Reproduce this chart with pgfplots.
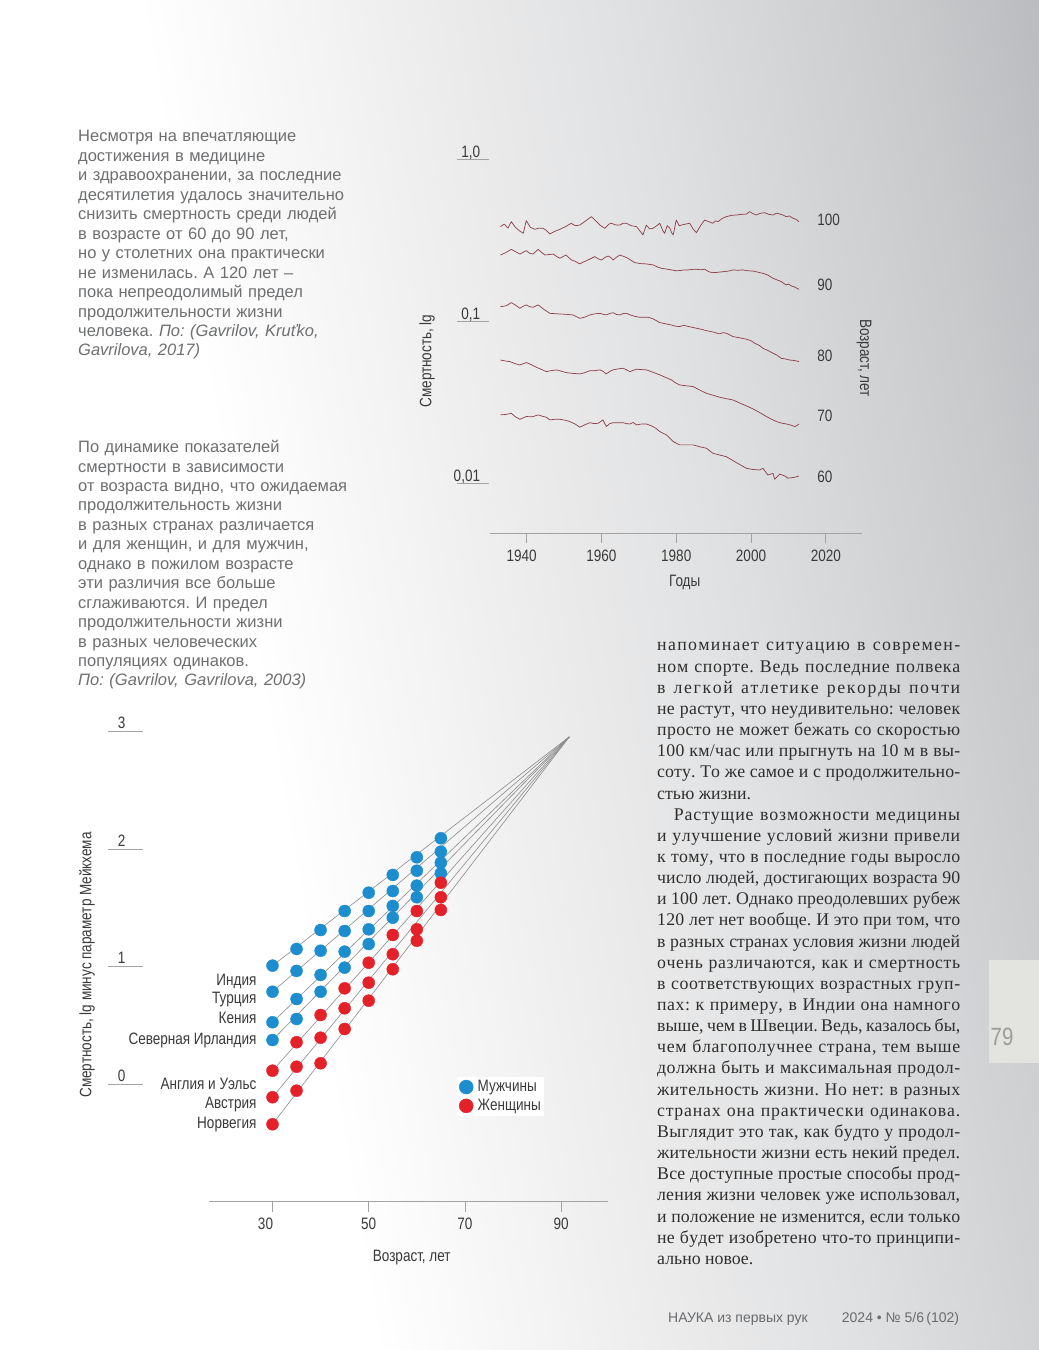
\documentclass[border=0pt]{standalone}
\usepackage{pgfplots}
\pgfplotsset{compat=1.18}
\usepackage{fontspec}
\setmainfont{Liberation Serif}
\newfontfamily\sansf{Liberation Sans}
\newfontfamily\condf[FakeStretch=0.82]{Liberation Sans}

\definecolor{bg0}{HTML}{F5F5F5}
\definecolor{bg1}{HTML}{EBEBEC}
\definecolor{bg2}{HTML}{E0E1E2}
\definecolor{bg3}{HTML}{C8CACC}
\definecolor{bg4}{HTML}{BABCBF}
\definecolor{bg5}{HTML}{9EA1A4}
\definecolor{bg6}{HTML}{94979A}
\definecolor{sidegray}{HTML}{6E6F71}
\definecolor{dark}{HTML}{3A3A3A}
\definecolor{bodytxt}{HTML}{2E2E2E}
\definecolor{axgray}{HTML}{A3A3A3}
\definecolor{lred}{RGB}{138,62,70}
\definecolor{dblue}{RGB}{28,141,207}
\definecolor{dred}{RGB}{228,32,40}
\definecolor{lgray}{HTML}{8C8C8C}
\definecolor{boxcol}{HTML}{E3E4E0}
\definecolor{numgray}{HTML}{9C9C9C}
\definecolor{footgray}{HTML}{6A6B6D}

\pgfdeclarehorizontalshading{pagebg}{100bp}{color(0bp)=(white); color(38bp)=(white); color(45bp)=(bg0); color(52bp)=(bg1); color(60bp)=(bg2); color(73bp)=(bg3); color(79bp)=(bg4); color(87bp)=(bg5); color(100bp)=(bg6)}

% justified line with stretchable letter spacing
\ExplSyntaxOn
\seq_new:N \l__ls_words_seq
\seq_new:N \l__ls_out_seq
\bool_new:N \l__ls_first_bool
\cs_new_protected:Npn \__ls_word:n #1
  {
    \bool_set_true:N \l__ls_first_bool
    \tl_map_inline:nn {#1}
      {
        \bool_if:NF \l__ls_first_bool { \hskip 0pt plus 1pt \relax }
        \bool_set_false:N \l__ls_first_bool
        ##1
      }
  }
\cs_new_protected:Npn \lsline #1
  {
    \seq_set_split:Nnn \l__ls_words_seq { ~ } { #1 }
    \seq_clear:N \l__ls_out_seq
    \seq_map_inline:Nn \l__ls_words_seq
      { \seq_put_right:Nn \l__ls_out_seq { \__ls_word:n {##1} } }
    \seq_use:Nn \l__ls_out_seq { ~ }
  }
\ExplSyntaxOff
\newcommand\jl[1]{\makebox[303pt][s]{\lsline{#1}}}
\newcommand\jli[1]{\makebox[303pt][s]{\hspace*{16.7pt}\lsline{#1}}}
\newcommand\cf{\condf\fontsize{16.5}{19}\selectfont}

\begin{document}
\begin{tikzpicture}
\begin{scope}[x=1pt,y=1pt]
\path[use as bounding box] (0,0) rectangle (1039,1350);
\shade[shading=pagebg, shading angle=10] (0,0) rectangle (1039,1350);
\fill[boxcol] (989,287) rectangle (1039,390);
\node[anchor=center, inner sep=0, text=numgray, font=\condf\fontsize{25}{25}\selectfont] at (1002,313) {79};
\end{scope}

% ---------------- top chart ----------------
\begin{axis}[
  at={(490pt,816.7pt)}, anchor=south west,
  scale only axis, width=371.7pt, height=382.1pt,
  xmin=1930.2, xmax=2029.6, ymin=-2.309, ymax=0.05,
  axis x line*=bottom, axis y line=none, ytick=\empty,
  x axis line style={draw=axgray, line width=0.8pt, -},
  xtick={1940,1960,1980,2000,2020},
  xticklabels={\makebox[0pt]{\kern-10pt 1940},1960,1980,2000,2020},
  tick align=outside, major tick length=10pt,
  xtick style={draw=axgray, line width=0.8pt},
  xticklabel style={font=\cf, text=dark, anchor=base, yshift=-18pt},
  clip=false,
]
% age 100
\addplot[lred, line width=0.7pt, line join=round, no marks] coordinates {(1933.0,-0.416)(1934.0,-0.400)(1935.0,-0.425)(1935.9,-0.385)(1937.0,-0.420)(1938.0,-0.440)(1939.1,-0.457)(1939.9,-0.379)(1941.0,-0.420)(1942.2,-0.432)(1943.3,-0.425)(1944.4,-0.426)(1945.3,-0.440)(1946.2,-0.461)(1947.5,-0.445)(1948.9,-0.432)(1950.5,-0.415)(1951.9,-0.395)(1953.0,-0.410)(1954.2,-0.406)(1955.5,-0.385)(1957.3,-0.354)(1958.7,-0.385)(1959.8,-0.410)(1960.9,-0.426)(1962.0,-0.400)(1962.7,-0.395)(1963.8,-0.405)(1964.9,-0.406)(1965.8,-0.395)(1966.7,-0.395)(1968.0,-0.410)(1969.4,-0.416)(1970.2,-0.440)(1971.1,-0.467)(1972.0,-0.406)(1972.9,-0.430)(1973.8,-0.426)(1974.8,-0.410)(1975.6,-0.395)(1976.4,-0.440)(1976.9,-0.457)(1977.6,-0.410)(1978.3,-0.426)(1978.8,-0.455)(1979.2,-0.467)(1980.0,-0.375)(1980.8,-0.410)(1981.4,-0.406)(1982.5,-0.400)(1983.6,-0.395)(1984.5,-0.430)(1985.4,-0.453)(1986.5,-0.410)(1987.6,-0.375)(1988.7,-0.385)(1989.8,-0.395)(1990.5,-0.380)(1991.2,-0.385)(1992.3,-0.365)(1993.4,-0.354)(1994.8,-0.346)(1996.1,-0.344)(1997.5,-0.340)(1998.8,-0.338)(1999.6,-0.323)(2000.5,-0.335)(2001.4,-0.344)(2002.5,-0.333)(2003.7,-0.330)(2004.8,-0.340)(2005.9,-0.344)(2006.8,-0.333)(2007.7,-0.338)(2008.6,-0.345)(2009.4,-0.354)(2010.3,-0.350)(2011.2,-0.364)(2012.0,-0.370)(2012.8,-0.385)};
% age 90
\addplot[lred, line width=0.7pt, line join=round, no marks] coordinates {(1933.0,-0.591)(1934.5,-0.575)(1935.9,-0.556)(1937.0,-0.570)(1938.2,-0.585)(1939.0,-0.575)(1939.9,-0.564)(1940.8,-0.580)(1941.7,-0.585)(1943.1,-0.556)(1944.0,-0.575)(1944.9,-0.591)(1946.0,-0.588)(1947.1,-0.585)(1948.0,-0.600)(1948.9,-0.611)(1950.5,-0.591)(1952.0,-0.622)(1953.0,-0.630)(1954.2,-0.646)(1955.0,-0.636)(1956.0,-0.626)(1957.0,-0.615)(1958.2,-0.601)(1959.2,-0.615)(1960.0,-0.622)(1961.0,-0.605)(1961.8,-0.597)(1962.7,-0.610)(1963.1,-0.622)(1964.0,-0.605)(1964.9,-0.591)(1966.0,-0.600)(1967.1,-0.611)(1968.0,-0.625)(1968.9,-0.638)(1970.5,-0.644)(1972.0,-0.646)(1973.8,-0.652)(1975.0,-0.665)(1976.0,-0.673)(1977.5,-0.678)(1978.7,-0.683)(1980.0,-0.688)(1980.9,-0.687)(1982.0,-0.683)(1983.2,-0.683)(1984.3,-0.680)(1985.4,-0.679)(1986.5,-0.682)(1987.6,-0.679)(1988.8,-0.695)(1989.8,-0.700)(1991.0,-0.698)(1992.5,-0.694)(1994.0,-0.690)(1995.2,-0.683)(1996.5,-0.685)(1997.9,-0.683)(1999.0,-0.688)(2000.5,-0.690)(2001.5,-0.695)(2003.2,-0.704)(2004.5,-0.715)(2005.9,-0.735)(2007.0,-0.745)(2008.1,-0.755)(2009.0,-0.770)(2009.4,-0.776)(2010.0,-0.770)(2010.8,-0.782)(2011.8,-0.790)(2012.8,-0.803)};
% age 80
\addplot[lred, line width=0.7pt, line join=round, no marks] coordinates {(1933.0,-0.910)(1934.5,-0.905)(1935.9,-0.885)(1937.0,-0.900)(1938.2,-0.920)(1939.0,-0.908)(1939.9,-0.899)(1940.8,-0.910)(1941.7,-0.914)(1942.5,-0.905)(1943.1,-0.899)(1944.5,-0.925)(1946.2,-0.951)(1947.5,-0.953)(1948.9,-0.955)(1950.5,-0.957)(1952.4,-0.961)(1953.2,-0.970)(1954.2,-0.982)(1955.5,-0.975)(1956.9,-0.961)(1958.0,-0.955)(1959.6,-0.951)(1960.6,-0.958)(1961.3,-0.961)(1962.2,-0.952)(1963.1,-0.947)(1964.0,-0.958)(1964.9,-0.961)(1965.8,-0.952)(1966.7,-0.951)(1967.6,-0.960)(1968.5,-0.967)(1969.4,-0.972)(1970.2,-0.975)(1971.5,-0.975)(1972.5,-0.975)(1973.8,-0.985)(1975.6,-1.008)(1977.0,-1.015)(1978.7,-1.023)(1979.8,-1.030)(1980.9,-1.033)(1982.0,-1.025)(1982.7,-1.029)(1984.0,-1.036)(1985.4,-1.043)(1986.8,-1.050)(1988.1,-1.058)(1989.8,-1.066)(1991.6,-1.078)(1992.5,-1.070)(1993.4,-1.074)(1995.2,-1.095)(1996.5,-1.100)(1998.8,-1.111)(2000.0,-1.120)(2001.0,-1.136)(2002.3,-1.150)(2003.2,-1.167)(2004.5,-1.180)(2005.9,-1.198)(2007.0,-1.210)(2008.1,-1.229)(2009.0,-1.232)(2010.3,-1.239)(2011.5,-1.242)(2012.8,-1.249)};
% age 70
\addplot[lred, line width=0.7pt, line join=round, no marks] coordinates {(1933.0,-1.239)(1934.0,-1.244)(1935.5,-1.249)(1937.0,-1.262)(1938.2,-1.270)(1939.9,-1.255)(1941.0,-1.265)(1942.6,-1.284)(1944.0,-1.298)(1945.3,-1.311)(1946.5,-1.305)(1948.0,-1.300)(1949.5,-1.310)(1950.6,-1.317)(1952.4,-1.322)(1954.2,-1.325)(1955.5,-1.318)(1956.9,-1.305)(1958.2,-1.305)(1959.6,-1.300)(1960.5,-1.310)(1961.3,-1.325)(1962.2,-1.310)(1963.1,-1.300)(1964.2,-1.295)(1965.8,-1.290)(1966.7,-1.300)(1967.6,-1.311)(1968.5,-1.303)(1969.4,-1.296)(1970.5,-1.298)(1972.0,-1.300)(1973.8,-1.315)(1975.6,-1.331)(1977.0,-1.345)(1978.7,-1.362)(1979.8,-1.380)(1980.9,-1.393)(1982.5,-1.398)(1984.5,-1.403)(1986.3,-1.425)(1988.1,-1.445)(1990.0,-1.458)(1991.6,-1.469)(1993.4,-1.478)(1995.2,-1.486)(1997.0,-1.505)(1998.8,-1.523)(2000.0,-1.535)(2001.4,-1.552)(2002.8,-1.570)(2004.1,-1.588)(2005.5,-1.605)(2006.8,-1.619)(2008.0,-1.628)(2009.4,-1.634)(2010.5,-1.640)(2011.7,-1.650)(2012.2,-1.645)(2012.8,-1.634)};
% age 60
\addplot[lred, line width=0.7pt, line join=round, no marks] coordinates {(1933.0,-1.578)(1934.5,-1.575)(1935.9,-1.568)(1937.0,-1.590)(1938.2,-1.605)(1939.9,-1.588)(1941.5,-1.590)(1943.1,-1.578)(1944.0,-1.585)(1945.3,-1.593)(1946.2,-1.609)(1947.5,-1.605)(1948.9,-1.605)(1950.5,-1.612)(1951.5,-1.619)(1953.0,-1.635)(1954.2,-1.654)(1955.5,-1.640)(1956.9,-1.626)(1958.0,-1.632)(1959.1,-1.630)(1960.4,-1.609)(1961.3,-1.650)(1962.2,-1.632)(1963.1,-1.626)(1964.5,-1.626)(1965.8,-1.626)(1966.7,-1.632)(1967.6,-1.634)(1968.5,-1.625)(1969.4,-1.640)(1970.5,-1.635)(1972.0,-1.634)(1973.4,-1.646)(1974.5,-1.660)(1975.6,-1.681)(1977.4,-1.702)(1979.2,-1.743)(1980.9,-1.763)(1982.5,-1.763)(1984.5,-1.763)(1986.3,-1.775)(1988.1,-1.784)(1989.8,-1.815)(1991.5,-1.825)(1993.4,-1.836)(1996.1,-1.873)(1998.8,-1.908)(2000.5,-1.915)(2002.3,-1.918)(2003.2,-1.908)(2004.5,-1.949)(2005.9,-1.939)(2006.3,-1.975)(2007.7,-1.943)(2009.0,-1.955)(2009.9,-1.969)(2011.7,-1.963)(2012.8,-1.955)};
% y tick marks (log scale: 1.0, 0.1, 0.01)
\draw[axgray, line width=0.8pt] (axis cs:1921.4,0) -- (axis cs:1930.0,0);
\draw[axgray, line width=0.8pt] (axis cs:1921.4,-1) -- (axis cs:1930.0,-1);
\draw[axgray, line width=0.8pt] (axis cs:1921.4,-2) -- (axis cs:1930.0,-2);
\node[anchor=base east, inner sep=0, font=\cf, text=dark, yshift=2.2pt] at (axis cs:1927.6,0) {1,0};
\node[anchor=base east, inner sep=0, font=\cf, text=dark, yshift=2.2pt] at (axis cs:1927.6,-1) {0,1};
\node[anchor=base east, inner sep=0, font=\cf, text=dark, yshift=2.2pt] at (axis cs:1927.6,-2) {0,01};
\node[anchor=west, inner sep=0, font=\cf, text=dark] at (axis cs:2017.7,-0.375) {100};
\node[anchor=west, inner sep=0, font=\cf, text=dark] at (axis cs:2017.7,-0.772) {90};
\node[anchor=west, inner sep=0, font=\cf, text=dark] at (axis cs:2017.7,-1.216) {80};
\node[anchor=west, inner sep=0, font=\cf, text=dark] at (axis cs:2017.7,-1.585) {70};
\node[anchor=west, inner sep=0, font=\cf, text=dark] at (axis cs:2017.7,-1.961) {60};
\node[anchor=base, inner sep=0, font=\cf, text=dark, yshift=-53.4pt] at (axis description cs:0.5238,0) {Годы};
\node[anchor=center, inner sep=0, font=\cf, text=dark, rotate=90] at (axis description cs:-0.1695,0.4509) {Смертность, lg};
\node[anchor=center, inner sep=0, font=\cf, text=dark, rotate=-90] at (axis description cs:1.0062,0.4588) {Возраст, лет};
\end{axis}

% ---------------- bottom chart ----------------
\begin{axis}[
  at={(209.3pt,148.4pt)}, anchor=south west,
  scale only axis, width=398.9pt, height=475.9pt,
  xmin=16.86, xmax=99.79, ymin=-1.0, ymax=3.05,
  axis x line*=bottom, axis y line=none, ytick=\empty,
  x axis line style={draw=axgray, line width=0.8pt, -},
  xtick={30,50,70,90}, xticklabels={\makebox[0pt]{\kern-14pt 30},50,70,90},
  tick align=outside, major tick length=10pt,
  xtick style={draw=axgray, line width=0.8pt},
  xticklabel style={font=\cf, text=dark, anchor=base, yshift=-18pt},
  clip=false,
  legend style={draw=none, fill=white, at={(0.621,0.262)}, anchor=north west,
    font=\cf, text=dark, inner sep=2pt, row sep=3pt, column sep=3pt, nodes={inner sep=1.5pt}},
  legend cell align=left,
  legend image code/.code={\draw[#1, mark size=7pt] plot coordinates {(7pt,0pt)};},
]
\addplot[forget plot, lgray, line width=0.6pt] coordinates {(30,1.008)(91.7,2.955)};
\addplot[forget plot, lgray, line width=0.6pt] coordinates {(30,0.786)(91.7,2.955)};
\addplot[forget plot, lgray, line width=0.6pt] coordinates {(30,0.526)(91.7,2.955)};
\addplot[forget plot, lgray, line width=0.6pt] coordinates {(30,0.375)(91.7,2.955)};
\addplot[forget plot, lgray, line width=0.6pt] coordinates {(30,0.114)(91.7,2.955)};
\addplot[forget plot, lgray, line width=0.6pt] coordinates {(30,-0.112)(91.7,2.955)};
\addplot[forget plot, lgray, line width=0.6pt] coordinates {(30,-0.342)(91.7,2.955)};
% men
\addplot[only marks, mark=*, mark size=6pt, draw=dblue, fill=dblue] coordinates {
(30,1.008)(35,1.150)(40,1.311)(45,1.473)(50,1.629)(55,1.780)(60,1.930)(65,2.092)
(30,0.786)(35,0.963)(40,1.135)(45,1.303)(50,1.473)(55,1.643)(60,1.816)(65,1.978)
(30,0.526)(35,0.724)(40,0.929)(45,1.127)(50,1.317)(55,1.516)(60,1.689)(65,1.884)
(30,0.375)(35,0.554)(40,0.786)(45,0.991)(50,1.192)(55,1.416)(60,1.590)(65,1.794)};
\addlegendentry{Мужчины}
% women
\addplot[only marks, mark=*, mark size=6pt, draw=dred, fill=dred] coordinates {
(30,0.114)(35,0.356)(40,0.588)(45,0.815)(50,1.033)(55,1.269)(60,1.473)(65,1.714)
(30,-0.112)(35,0.148)(40,0.395)(45,0.645)(50,0.863)(55,1.105)(60,1.317)(65,1.590)
(30,-0.342)(35,-0.056)(40,0.177)(45,0.469)(50,0.710)(55,0.977)(60,1.220)(65,1.482)};
\addlegendentry{Женщины}
% y tick marks
\draw[axgray, line width=0.8pt] (axis cs:-4.14,0) -- (axis cs:3.14,0);
\draw[axgray, line width=0.8pt] (axis cs:-4.14,1) -- (axis cs:3.14,1);
\draw[axgray, line width=0.8pt] (axis cs:-4.14,2) -- (axis cs:3.14,2);
\draw[axgray, line width=0.8pt] (axis cs:-4.14,3) -- (axis cs:3.14,3);
\node[anchor=base, inner sep=0, font=\cf, text=dark, yshift=2.8pt] at (axis cs:-1.35,0) {0};
\node[anchor=base, inner sep=0, font=\cf, text=dark, yshift=2.8pt] at (axis cs:-1.35,1) {1};
\node[anchor=base, inner sep=0, font=\cf, text=dark, yshift=2.8pt] at (axis cs:-1.35,2) {2};
\node[anchor=base, inner sep=0, font=\cf, text=dark, yshift=2.8pt] at (axis cs:-1.35,3) {3};
% country labels
\node[anchor=base east, inner sep=0, font=\cf, text=dark] at (axis cs:26.7,0.843) {Индия};
\node[anchor=base east, inner sep=0, font=\cf, text=dark] at (axis cs:26.7,0.682) {Турция};
\node[anchor=base east, inner sep=0, font=\cf, text=dark] at (axis cs:26.7,0.512) {Кения};
\node[anchor=base east, inner sep=0, font=\cf, text=dark] at (axis cs:26.7,0.341) {Северная Ирландия};
\node[anchor=base east, inner sep=0, font=\cf, text=dark] at (axis cs:26.7,-0.044) {Англия и Уэльс};
\node[anchor=base east, inner sep=0, font=\cf, text=dark] at (axis cs:26.7,-0.206) {Австрия};
\node[anchor=base east, inner sep=0, font=\cf, text=dark] at (axis cs:26.7,-0.376) {Норвегия};
\node[anchor=base, inner sep=0, font=\cf, text=dark, yshift=-59.4pt] at (axis description cs:0.5076,0) {Возраст, лет};
\node[anchor=center, inner sep=0, font=\cf, text=dark, rotate=90] at (axis description cs:-0.3066,0.4972) {Смертность, lg минус параметр Мейкхема};
\end{axis}

% ---------------- page text ----------------
\begin{scope}[x=1pt,y=1pt]
\node[anchor=base west, inner sep=0, text width=330pt, text=sidegray,
  font=\sansf\fontsize{16.5}{19.45}\selectfont\frenchspacing] at (78,1208) {%
Несмотря на впечатляющие\\
достижения в медицине\\
и здравоохранении, за последние\\
десятилетия удалось значительно\\
снизить смертность среди людей\\
в возрасте от 60 до 90 лет,\\
но у столетних она практически\\
не изменилась. А 120 лет –\\
пока непреодолимый предел\\
продолжительности жизни\\
человека. \textit{По: (Gavrilov, Kruťko,}\\
\textit{Gavrilova, 2017)}};
\node[anchor=base west, inner sep=0, text width=330pt, text=sidegray,
  font=\sansf\fontsize{16.5}{19.45}\selectfont\frenchspacing] at (78,897.4) {%
По динамике показателей\\
смертности в зависимости\\
от возраста видно, что ожидаемая\\
продолжительность жизни\\
в разных странах различается\\
и для женщин, и для мужчин,\\
однако в пожилом возрасте\\
эти различия все больше\\
сглаживаются. И предел\\
продолжительности жизни\\
в разных человеческих\\
популяциях одинаков.\\
\textit{По: (Gavrilov, Gavrilova, 2003)}};
\node[anchor=base west, inner sep=0, text width=303pt, align=justify, text=bodytxt,
  font=\fontsize{17.8}{21.15}\selectfont\frenchspacing] at (657,699) {%
\jl{напоминает ситуацию в современ-}\\
\jl{ном спорте. Ведь последние полвека}\\
\jl{в легкой атлетике рекорды почти}\\
\jl{не растут, что неудивительно: человек}\\
\jl{просто не может бежать со скоростью}\\
\jl{100 км/час или прыгнуть на 10 м в вы-}\\
\jl{соту. То же самое и с продолжительно-}\\
стью жизни.\\
\jli{Растущие возможности медицины}\\
\jl{и улучшение условий жизни привели}\\
\jl{к тому, что в последние годы выросло}\\
\jl{число людей, достигающих возраста 90}\\
\jl{и 100 лет. Однако преодолевших рубеж}\\
\jl{120 лет нет вообще. И это при том, что}\\
\jl{в разных странах условия жизни людей}\\
\jl{очень различаются, как и смертность}\\
\jl{в соответствующих возрастных груп-}\\
\jl{пах: к примеру, в Индии она намного}\\
\jl{выше, чем в Швеции. Ведь, казалось бы,}\\
\jl{чем благополучнее страна, тем выше}\\
\jl{должна быть и максимальная продол-}\\
\jl{жительность жизни. Но нет: в разных}\\
\jl{странах она практически одинакова.}\\
\jl{Выглядит это так, как будто у продол-}\\
\jl{жительности жизни есть некий предел.}\\
\jl{Все доступные простые способы прод-}\\
\jl{ления жизни человек уже использовал,}\\
\jl{и положение не изменится, если только}\\
\jl{не будет изобретено что-то принципи-}\\
ально новое.};
\node[anchor=base west, inner sep=0, text=footgray, font=\sansf\fontsize{14}{14}\selectfont] at (668,27.7) {НАУКА из первых рук};
\node[anchor=base west, inner sep=0, text=footgray, font=\sansf\fontsize{14}{14}\selectfont] at (841.7,27.7) {2024 • № 5/6\,(102)};
\end{scope}
\end{tikzpicture}
\end{document}
